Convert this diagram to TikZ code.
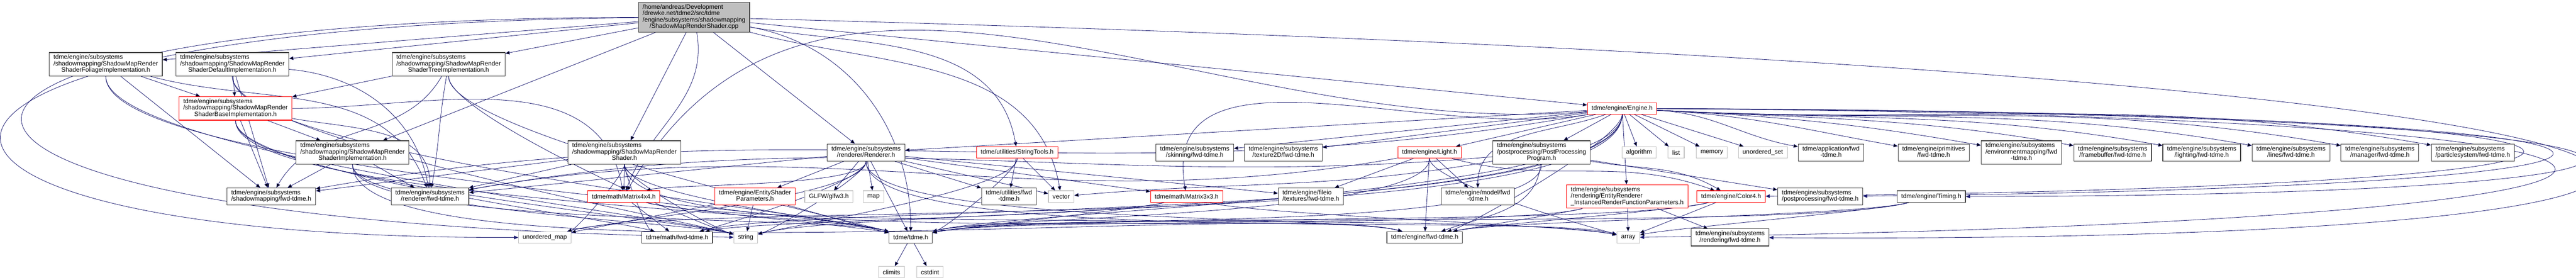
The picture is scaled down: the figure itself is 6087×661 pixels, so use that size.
\documentclass[tikz,border=0pt]{standalone}
\usepackage{fontspec}
\setmainfont{Liberation Sans}
\usetikzlibrary{arrows.meta}
\tikzset{font=\fontsize{3.7}{3.69}\selectfont}
\definecolor{navy}{HTML}{191970}
\definecolor{grey75}{HTML}{BFBFBF}
\definecolor{boxgrey}{HTML}{404040}
\pgfdeclarelayer{edges}
\pgfsetlayers{edges,main}
% file name over several lines: left aligned, last line centred
\newcommand{\fname}[2]{\begin{tabular}{@{}l@{}}#1\\\multicolumn{1}{@{}c@{}}{#2}\end{tabular}}

\begin{document}
\begin{tikzpicture}[x=0.25pt, y=-0.25pt, >={Triangle[length=2.5pt,width=2.1pt]}]
		\tikzstyle{hdr} = [rectangle, draw=boxgrey, fill=white, line width=0.35pt, inner xsep=2.5pt, inner ysep=1.25pt, minimum height=6.75pt];
		\tikzstyle{syshdr} = [hdr, draw=grey75];
		\tikzstyle{trunc} = [hdr, draw=red];
		\tikzstyle{mainfile} = [hdr, fill=grey75];
		\tikzstyle{inc} = [draw=navy, line width=0.25pt, ->];
		\tikzstyle{dip} = [out=-90, in=165, looseness=0.3];
		\tikzstyle{dipl} = [out=-90, in=15, looseness=0.3];
		\tikzstyle{sweep} = [out=-165, in=12, looseness=0.3];
		\tikzstyle{sweepr} = [out=-15, in=168, looseness=0.3];
		\tikzstyle{fan} = [out=-3, in=170];

		\useasboundingbox (0,0) rectangle (6087,661);

		\node[mainfile](cpp) at (1640,40.5){\fname{/home/andreas/Development\\/drewke.net/tdme2/src/tdme\\/engine/subsystems/shadowmapping}{/ShadowMapRenderShader.cpp}};

		\node[hdr](foliage impl) at (250,152){\fname{tdme/engine/subsystems\\/shadowmapping/ShadowMapRender}{ShaderFoliageImplementation.h}};
		\node[hdr](default impl) at (549,152){\fname{tdme/engine/subsystems\\/shadowmapping/ShadowMapRender}{ShaderDefaultImplementation.h}};
		\node[hdr](tree impl) at (1060,152){\fname{tdme/engine/subsystems\\/shadowmapping/ShadowMapRender}{ShaderTreeImplementation.h}};
		\node[trunc](base impl) at (556.5,256){\fname{tdme/engine/subsystems\\/shadowmapping/ShadowMapRender}{ShaderBaseImplementation.h}};
		\node[trunc](engine) at (3833,256){tdme/engine/Engine.h};

		\node[hdr](shader impl) at (833,360){\fname{tdme/engine/subsystems\\/shadowmapping/ShadowMapRender}{ShaderImplementation.h}};
		\node[hdr](shader) at (1475.5,360){\fname{tdme/engine/subsystems\\/shadowmapping/ShadowMapRender}{Shader.h}};
		\node[hdr](renderer) at (2046.5,360){\fname{tdme/engine/subsystems}{/renderer/Renderer.h}};
		\node[trunc](stringtools) at (2403.5,360){tdme/utilities/StringTools.h};
		\node[hdr](skinning fwd) at (2823,360){\fname{tdme/engine/subsystems}{/skinning/fwd-tdme.h}};
		\node[hdr](texture2d fwd) at (3032.5,360){\fname{tdme/engine/subsystems}{/texture2D/fwd-tdme.h}};
		\node[trunc](light) at (3378,360){tdme/engine/Light.h};
		\node[hdr](pp program) at (3642.5,360){\fname{tdme/engine/subsystems\\/postprocessing/PostProcessing}{Program.h}};
		\node[syshdr](algorithm) at (3873,360){algorithm};
		\node[syshdr](list) at (3960.5,360){list};
		\node[syshdr](memory) at (4045,360){memory};
		\node[syshdr](uset) at (4165.5,360){unordered\_set};
		\node[hdr](application fwd) at (4326.5,360){\fname{tdme/application/fwd}{-tdme.h}};
		\node[hdr](primitives fwd) at (4569,360){\fname{tdme/engine/primitives}{/fwd-tdme.h}};
		\node[hdr](envmap fwd) at (4776.5,360){\fname{tdme/engine/subsystems\\/environmentmapping/fwd}{-tdme.h}};
		\node[hdr](framebuffer fwd) at (4992,360){\fname{tdme/engine/subsystems}{/framebuffer/fwd-tdme.h}};
		\node[hdr](lighting fwd) at (5202.5,360){\fname{tdme/engine/subsystems}{/lighting/fwd-tdme.h}};
		\node[hdr](lines fwd) at (5413.5,360){\fname{tdme/engine/subsystems}{/lines/fwd-tdme.h}};
		\node[hdr](manager fwd) at (5623.5,360){\fname{tdme/engine/subsystems}{/manager/fwd-tdme.h}};
		\node[hdr](particle fwd) at (5843,360){\fname{tdme/engine/subsystems}{/particlesystem/fwd-tdme.h}};

		\node[hdr](shadow fwd) at (641,464){\fname{tdme/engine/subsystems}{/shadowmapping/fwd-tdme.h}};
		\node[hdr](renderer fwd) at (1016,464){\fname{tdme/engine/subsystems}{/renderer/fwd-tdme.h}};
		\node[trunc](matrix4) at (1474,464){tdme/math/Matrix4x4.h};
		\node[trunc](es params) at (1784,464){\fname{tdme/engine/EntityShader}{Parameters.h}};
		\node[syshdr](glfw) at (1958.5,464){GLFW/glfw3.h};
		\node[syshdr](map) at (2064,464){map};
		\node[hdr](utilities fwd) at (2384,464){\fname{tdme/utilities/fwd}{-tdme.h}};
		\node[syshdr](vector) at (2507.5,464){vector};
		\node[trunc](matrix3) at (2804,464){tdme/math/Matrix3x3.h};
		\node[hdr](textures fwd) at (3097.5,464){\fname{tdme/engine/fileio}{/textures/fwd-tdme.h}};
		\node[hdr](model fwd) at (3492,464){\fname{tdme/engine/model/fwd}{-tdme.h}};
		\node[trunc](instanced) at (3845,464){\fname{tdme/engine/subsystems\\/rendering/EntityRenderer}{\_InstancedRenderFunctionParameters.h}};
		\node[trunc](color4) at (4090.5,464){tdme/engine/Color4.h};
		\node[hdr](pp fwd) at (4301,464){\fname{tdme/engine/subsystems}{/postprocessing/fwd-tdme.h}};
		\node[hdr](timing) at (4563.5,464){tdme/engine/Timing.h};

		\node[syshdr](umap) at (1287.5,560.5){unordered\_map};
		\node[hdr](math fwd) at (1600,560.5){tdme/math/fwd-tdme.h};
		\node[syshdr](string) at (1762,560.5){string};
		\node[hdr](tdme) at (2152,560.5){tdme/tdme.h};
		\node[hdr](engine fwd) at (3366.5,560.5){tdme/engine/fwd-tdme.h};
		\node[syshdr](array) at (3847.5,560.5){array};
		\node[hdr](rendering fwd) at (4088,560.5){\fname{tdme/engine/subsystems}{/rendering/fwd-tdme.h}};

		\node[syshdr](climits) at (2106.5,642.5){climits};
		\node[syshdr](cstdint) at (2197.5,642.5){cstdint};

		\begin{pgfonlayer}{edges}
		\path[inc] (cpp) edge (foliage impl)
		(cpp) edge (default impl)
		(cpp) edge (tree impl)
		(cpp) edge (shader impl)
		(cpp) edge (shader)
		(cpp) edge[out=-80, in=70] (matrix4)
		(cpp) edge (renderer)
		(cpp) edge[out=-10, in=100] (stringtools)
		(cpp) edge[out=-15, in=100] (vector)
		(cpp) edge[out=-10, in=90] (tdme)
		(cpp) edge (engine);
		\draw[inc] (cpp) .. controls (-450,60) and (-450,565) .. (umap);
		\draw[inc] (cpp) .. controls (-470,45) and (-470,530) .. (string);
		\draw[inc] (cpp) .. controls (7100,180) and (7100,580) .. (rendering fwd);

		\path[inc] (foliage impl) edge (base impl)
		(foliage impl) edge (shadow fwd)
		(foliage impl) edge[out=-15, in=110] (renderer fwd)
		(foliage impl) edge[dip] (string)
		(foliage impl) edge[dip] (tdme)
		(default impl) edge (base impl)
		(default impl) edge (shadow fwd)
		(default impl) edge[out=-5, in=100] (renderer fwd)
		(default impl) edge[dip] (string)
		(default impl) edge[dip] (tdme)
		(tree impl) edge (base impl)
		(tree impl) edge[out=-120, in=60] (shadow fwd)
		(tree impl) edge[out=-100, in=80] (renderer fwd)
		(tree impl) edge[dip] (string)
		(tree impl) edge[dip] (tdme);

		\path[inc] (base impl) edge (shader impl)
		(base impl) edge (shadow fwd)
		(base impl) edge[out=0, in=100] (matrix4)
		(base impl) edge[out=-10, in=90] (renderer fwd)
		(base impl) edge[dip] (string)
		(base impl) edge[dip] (math fwd)
		(base impl) edge[dip] (tdme)
		(shader impl) edge (shadow fwd)
		(shader impl) edge (renderer fwd)
		(shader impl) edge[dip] (string)
		(shader impl) edge[dip] (tdme)
		(shader impl) edge[dip] (engine fwd)
		(shader) edge (matrix4)
		(shader) edge (shadow fwd)
		(shader) edge (renderer fwd)
		(shader) edge[dipl] (umap)
		(shader) edge[dip] (string)
		(shader) edge[dip] (math fwd)
		(shader) edge[dip] (tdme)
		(shader) edge[dip] (engine fwd);

		\path[inc] (renderer) edge (glfw)
		(renderer) edge (es params)
		(renderer) edge (map)
		(renderer) edge (tdme)
		(renderer) edge (utilities fwd)
		(renderer) edge (vector)
		(renderer) edge (matrix3)
		(renderer) edge (textures fwd)
		(renderer) edge (renderer fwd)
		(renderer) edge[dipl] (matrix4)
		(renderer) edge[dipl] (string)
		(renderer) edge[dipl] (umap)
		(renderer) edge[dipl] (math fwd)
		(renderer) edge[dip] (array)
		(renderer) edge[dip] (engine fwd)
		(stringtools) edge (utilities fwd)
		(stringtools) edge (vector)
		(stringtools) edge[dipl] (string)
		(stringtools) edge[dipl] (tdme);

		\path[inc] (engine) edge (renderer)
		(engine) edge (skinning fwd)
		(engine) edge (texture2d fwd)
		(engine) edge (light)
		(engine) edge (pp program)
		(engine) edge (algorithm)
		(engine) edge (list)
		(engine) edge (memory)
		(engine) edge (uset)
		(engine) edge[fan] (application fwd)
		(engine) edge[fan] (primitives fwd)
		(engine) edge[fan] (envmap fwd)
		(engine) edge[fan] (framebuffer fwd)
		(engine) edge[fan] (lighting fwd)
		(engine) edge[fan] (manager fwd)
		(engine) edge[fan] (lines fwd)
		(engine) edge[fan] (particle fwd)
		(engine) edge[out=-160, in=90] (model fwd)
		(engine) edge (instanced)
		(engine) edge[out=185, in=60] (matrix4)
		(engine) edge[out=190, in=100] (matrix3)
		(engine) edge[out=190, in=10] (shadow fwd)
		(engine) edge[dipl] (tdme)
		(engine) edge[dipl] (string)
		(engine) edge[dipl] (umap)
		(engine) edge[dipl] (math fwd)
		(engine) edge[dipl] (engine fwd);
		\draw[inc] (engine) .. controls (6600,265) and (6600,440) .. (color4);
		\draw[inc] (engine) .. controls (6650,268) and (6650,440) .. (pp fwd);
		\draw[inc] (engine) .. controls (6700,270) and (6700,462) .. (timing);
		\draw[inc] (engine) .. controls (6750,275) and (6750,520) .. (array);

		\path[inc] (light) edge (textures fwd)
		(light) edge (model fwd)
		(light) edge (engine fwd)
		(light) edge[out=-15, in=160] (color4)
		(light) edge[out=190, in=10] (renderer fwd)
		(light) edge[dipl] (tdme)
		(light) edge[dip] (array)
		(pp program) edge[out=-95, in=20] (engine fwd)
		(pp program) edge (pp fwd)
		(pp program) edge[out=-10, in=150] (color4)
		(pp program) edge[out=185, in=10] (renderer fwd)
		(pp program) edge[out=190, in=5] (vector)
		(pp program) edge[dipl] (tdme)
		(instanced) edge (array)
		(instanced) edge (rendering fwd)
		(instanced) edge[sweep] (engine fwd)
		(instanced) edge[sweep] (tdme)
		(color4) edge[sweep] (tdme)
		(color4) edge[sweep] (engine fwd)
		(color4) edge (array)
		(timing) edge[sweep] (tdme)
		(timing) edge[sweep] (engine fwd)
		(timing) edge[sweep] (array);

		\path[inc] (matrix4) edge (math fwd)
		(matrix4) edge[sweepr] (tdme)
		(matrix4) edge[sweepr] (array)
		(matrix3) edge[sweep] (math fwd)
		(matrix3) edge[sweep] (tdme)
		(matrix3) edge[sweepr] (array)
		(es params) edge (umap)
		(es params) edge (string)
		(es params) edge[sweepr] (tdme)
		(tdme) edge (climits)
		(tdme) edge (cstdint);
		\end{pgfonlayer}
\end{tikzpicture}
\end{document}
